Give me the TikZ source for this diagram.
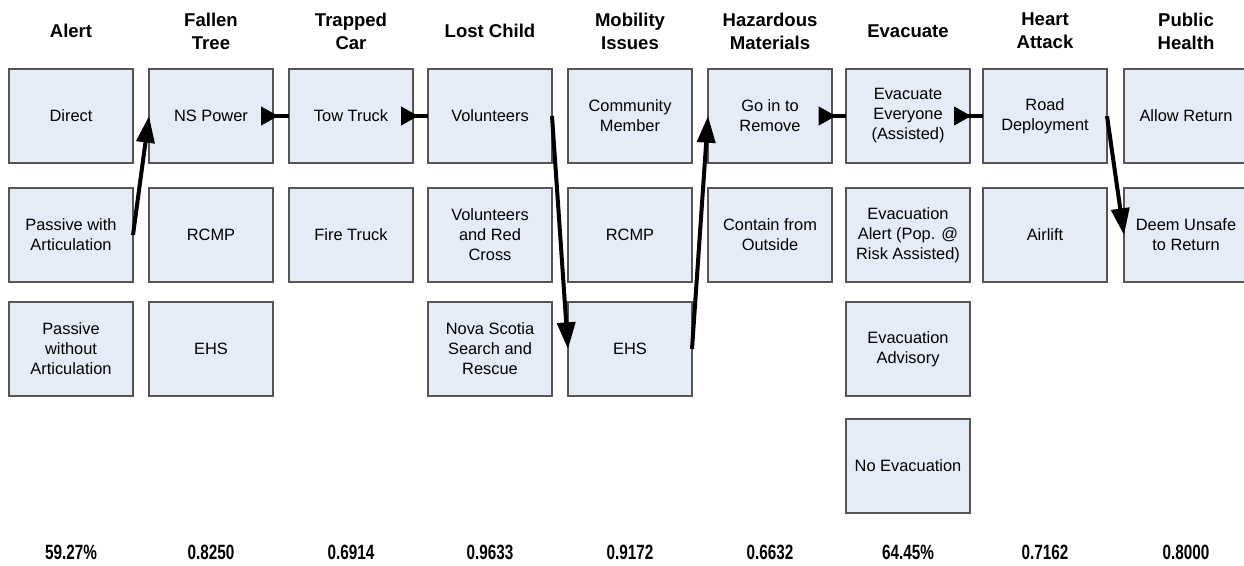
\documentclass[tikz,border=0pt]{standalone}
\usepackage{fontspec}
\setmainfont{Liberation Sans}
\newfontfamily\narrowfont[FakeStretch=0.74]{Liberation Sans}
\usetikzlibrary{arrows.meta}
\definecolor{boxfill}{RGB}{230,236,247}
\definecolor{boxline}{RGB}{85,85,85}
\tikzset{
    choice/.style={draw=boxline, fill=boxfill, line width=0.9pt, minimum width=93pt,
        minimum height=70.5pt, inner sep=2pt, outer sep=0pt, align=center,
        font=\fontsize{12.3}{15}\selectfont},
    heading/.style={align=center, font=\fontsize{13.9}{17.25}\selectfont\bfseries},
    score/.style={font=\narrowfont\fontsize{15.5}{18}\selectfont\bfseries},
    jump/.style={line width=3pt, -{Triangle[length=20pt,width=13.5pt]}},
    hop/.style={line width=3pt, {Triangle[reversed,length=13pt,width=13.5pt]}-},
}
\begin{document}
\begin{tikzpicture}[x=0.75pt, y=-0.75pt]
    \useasboundingbox (0, 0) rectangle (1244, 565);
    % headings
    \node[heading] (hA) at (71, 31) {Alert};
    \node[heading] (hB) at (211, 31) {Fallen\\Tree};
    \node[heading] (hC) at (351, 31) {Trapped\\Car};
    \node[heading] (hD) at (490, 31) {Lost Child};
    \node[heading] (hE) at (630, 31) {Mobility\\Issues};
    \node[heading] (hF) at (770, 31) {Hazardous\\Materials};
    \node[heading] (hG) at (908, 31) {Evacuate};
    \node[heading] (hH) at (1045, 31) {Heart\\Attack};
    \node[heading] (hI) at (1186, 31) {Public\\Health};
    % choices
    \node[choice] (a1) at (71, 116) {Direct};
    \node[choice] (a2) at (71, 235) {Passive with\\Articulation};
    \node[choice] (a3) at (71, 349) {Passive\\without\\Articulation};
    \node[choice] (b1) at (211, 116) {NS Power};
    \node[choice] (b2) at (211, 235) {RCMP};
    \node[choice] (b3) at (211, 349) {EHS};
    \node[choice] (c1) at (351, 116) {Tow Truck};
    \node[choice] (c2) at (351, 235) {Fire Truck};
    \node[choice] (d1) at (490, 116) {Volunteers};
    \node[choice] (d2) at (490, 235) {Volunteers\\and Red\\Cross};
    \node[choice] (d3) at (490, 349) {Nova Scotia\\Search and\\Rescue};
    \node[choice] (e1) at (630, 116) {Community\\Member};
    \node[choice] (e2) at (630, 235) {RCMP};
    \node[choice] (e3) at (630, 349) {EHS};
    \node[choice] (f1) at (770, 116) {Go in to\\Remove};
    \node[choice] (f2) at (770, 235) {Contain from\\Outside};
    \node[choice] (g1) at (908, 116) {Evacuate\\Everyone\\(Assisted)};
    \node[choice] (g2) at (908, 235) {Evacuation\\Alert (Pop. @\\Risk Assisted)};
    \node[choice] (g3) at (908, 349) {Evacuation\\Advisory};
    \node[choice] (g4) at (908, 466) {No Evacuation};
    \node[choice] (h1) at (1045, 116) {Road\\Deployment};
    \node[choice] (h2) at (1045, 235) {Airlift};
    \node[choice] (i1) at (1186, 116) {Allow Return};
    \node[choice] (i2) at (1186, 235) {Deem Unsafe\\to Return};
    % scores
    \node[score] (sA) at (71, 552) {59.27\%};
    \node[score] (sB) at (211, 552) {0.8250};
    \node[score] (sC) at (351, 552) {0.6914};
    \node[score] (sD) at (490, 552) {0.9633};
    \node[score] (sE) at (630, 552) {0.9172};
    \node[score] (sF) at (770, 552) {0.6632};
    \node[score] (sG) at (908, 552) {64.45\%};
    \node[score] (sH) at (1045, 552) {0.7162};
    \node[score] (sI) at (1186, 552) {0.8000};
    % chosen path
    \draw[jump] (a2.east) -- (b1.west);
    \draw[hop] ([xshift=-9pt]b1.east) -- (c1.west);
    \draw[hop] ([xshift=-9pt]c1.east) -- (d1.west);
    \draw[jump] (d1.east) -- (e3.west);
    \draw[jump] (e3.east) -- (f1.west);
    \draw[hop] ([xshift=-10pt]f1.east) -- (g1.west);
    \draw[hop] ([xshift=-12pt]g1.east) -- (h1.west);
    \draw[jump] (h1.east) -- (i2.west);
\end{tikzpicture}
\end{document}
